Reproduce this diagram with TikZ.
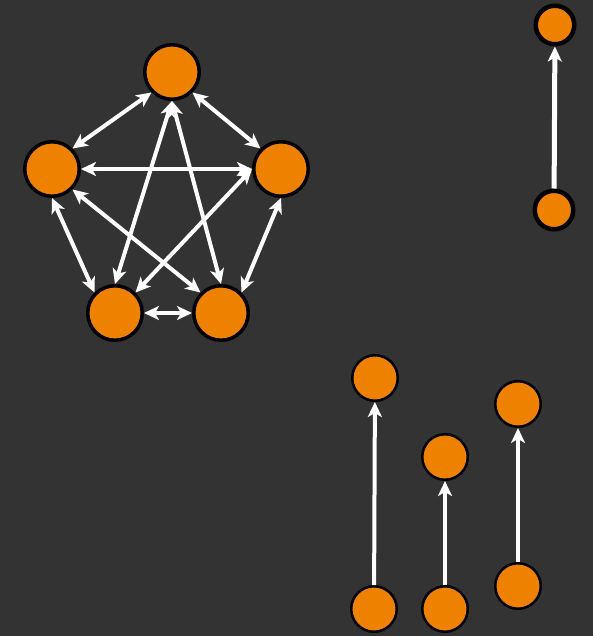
\documentclass[tikz,border=0pt]{standalone}
\usetikzlibrary{arrows.meta}
\definecolor{bg}{HTML}{333333}
\definecolor{org}{HTML}{EE8200}
\begin{document}
\begin{tikzpicture}[x=1pt,y=-1pt,
  big/.style={circle,draw=black,fill=org,line width=3.5pt,minimum size=54.5pt,inner sep=0pt},
  med/.style={circle,draw=black,fill=org,line width=4.5pt,minimum size=38.5pt,inner sep=0pt},
  sml/.style={circle,draw=black,fill=org,line width=2.5pt,minimum size=45.5pt,inner sep=0pt},
  tip/.tip={Stealth[length=15pt,width=14pt,inset=4pt]},
  biarrow/.style={draw=white,line width=4pt,tip-tip},
  uparrow/.style={draw=white,line width=4pt,-tip}]
\fill[bg] (0,0) rectangle (593,636);
\useasboundingbox (0,0) rectangle (593,636);
% pentagon
\node[big] (t) at (172,72) {};
\node[big] (l) at (52,169) {};
\node[big] (r) at (281,169) {};
\node[big] (bl) at (115,313) {};
\node[big] (br) at (221,313) {};
\draw[biarrow] (t.south west) -- (l.north east);
\draw[biarrow] (t.south east) -- (r.north west);
\draw[biarrow] (l.south) -- (bl.north west);
\draw[biarrow] (r.south) -- (br.north east);
\draw[biarrow] (bl.east) -- (br.west);
\draw[biarrow] (t.south) -- (bl.north);
\draw[biarrow] (t.south) -- (br.north);
\draw[biarrow] (l.east) -- (r.west);
\draw[biarrow] (l.south east) -- (br.north west);
\draw[biarrow] (r.west) -- (bl.north east);
% top-right pair
\node[med] (p1) at (555,25) {};
\node[med] (p0) at (554,210) {};
\draw[uparrow,line width=5pt] (p0) -- (p1);
% bottom group
\node[sml] (a1) at (375,378) {};
\node[sml] (a0) at (374,609) {};
\node[sml] (b1) at (445,457) {};
\node[sml] (b0) at (445,609) {};
\node[sml] (c1) at (518,404) {};
\node[sml] (c0) at (518,586) {};
\draw[uparrow] (a0) -- (a1);
\draw[uparrow] (b0) -- (b1);
\draw[uparrow] (c0) -- (c1);
\end{tikzpicture}
\end{document}
